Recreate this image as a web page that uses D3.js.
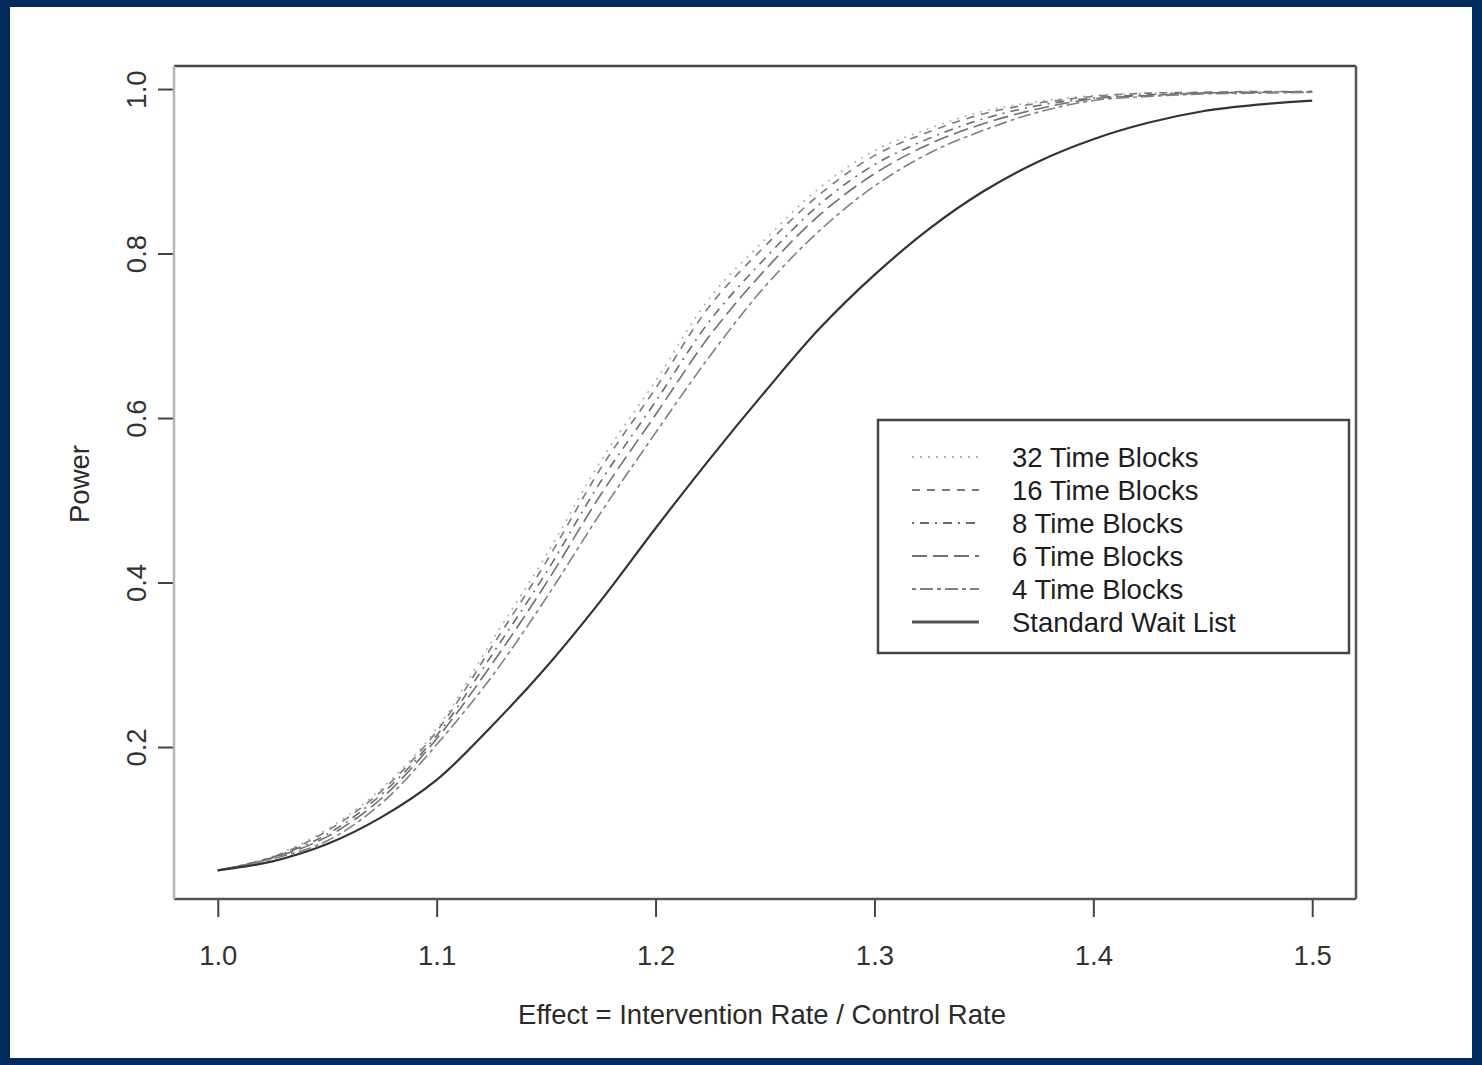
<!DOCTYPE html>
<html>
<head>
<meta charset="utf-8">
<script src="https://cdn.jsdelivr.net/npm/d3@7"></script>
<style>
  body { margin: 0; background: #002b5c; }
  svg { display: block; }
  text { font-family: "Liberation Sans", Arial, sans-serif; fill: #2a2a2a; }
</style>
</head>
<body>
<div id="my_dataviz"></div>
<script>
// effect values on the x axis
var effect = [1.000, 1.025, 1.050, 1.075, 1.100, 1.125, 1.150, 1.175, 1.200, 1.225, 1.250,
              1.275, 1.300, 1.325, 1.350, 1.375, 1.400, 1.425, 1.450, 1.475, 1.500];

// power curves
var blocks32 = [0.050, 0.067, 0.100, 0.150, 0.222, 0.328, 0.433, 0.548, 0.645, 0.747, 0.817,
                0.880, 0.925, 0.952, 0.973, 0.985, 0.992, 0.995, 0.996, 0.997, 0.997];
var blocks16 = [0.050, 0.066, 0.098, 0.147, 0.219, 0.321, 0.425, 0.539, 0.636, 0.737, 0.809,
                0.872, 0.919, 0.948, 0.970, 0.983, 0.991, 0.995, 0.996, 0.997, 0.997];
var blocks8  = [0.050, 0.066, 0.094, 0.143, 0.214, 0.311, 0.412, 0.523, 0.620, 0.719, 0.794,
                0.860, 0.908, 0.940, 0.964, 0.980, 0.989, 0.993, 0.995, 0.996, 0.997];
var blocks6  = [0.050, 0.065, 0.091, 0.138, 0.210, 0.300, 0.399, 0.507, 0.604, 0.701, 0.780,
                0.847, 0.897, 0.933, 0.958, 0.976, 0.988, 0.992, 0.995, 0.996, 0.996];
var blocks4  = [0.050, 0.064, 0.086, 0.132, 0.203, 0.285, 0.381, 0.485, 0.582, 0.676, 0.760,
                0.828, 0.882, 0.922, 0.950, 0.972, 0.986, 0.991, 0.994, 0.995, 0.996];
var waitList = [0.050, 0.061, 0.082, 0.115, 0.160, 0.225, 0.297, 0.378, 0.466, 0.551, 0.632,
                0.709, 0.774, 0.830, 0.876, 0.912, 0.939, 0.959, 0.973, 0.981, 0.986];

var seriesNames = ["32 Time Blocks", "16 Time Blocks", "8 Time Blocks", "6 Time Blocks",
                   "4 Time Blocks", "Standard Wait List"];
var seriesValues = [blocks32, blocks16, blocks8, blocks6, blocks4, waitList];

var xTicks = [1.0, 1.1, 1.2, 1.3, 1.4, 1.5];
var yTicks = [0.2, 0.4, 0.6, 0.8, 1.0];

// line styles (R lty: dotted, dashed, dotdash, longdash, twodash, solid)
var dashes  = ["2,6", "8,7", "2,6,9,6", "15,6", "4,4,13,4", null];
var strokes = ["#b0b0b0", "#7a7a7a", "#6a6a6a", "#707070", "#808080", "#333"];
var widths  = [1.6, 1.6, 1.6, 1.6, 1.6, 2.2];

// set the dimensions and margins of the graph
var margin = {top: 66, right: 126, bottom: 166, left: 174},
    width = 1482 - margin.left - margin.right,
    height = 1065 - margin.top - margin.bottom;

var fontSize = "27.5px";

var root = d3.select("#my_dataviz")
  .append("svg")
    .attr("width", 1482)
    .attr("height", 1065);

// white page inside the navy frame
root.append("rect")
  .attr("x", 10).attr("y", 7)
  .attr("width", 1462).attr("height", 1051)
  .style("fill", "#fff");

var svg = root.append("g")
  .attr("transform", "translate(" + margin.left + "," + margin.top + ")");

// scales (R style 4% padding)
var x = d3.scaleLinear()
  .domain([0.98, 1.52])
  .range([0, width]);

var y = d3.scaleLinear()
  .domain([0.0152, 1.028])
  .range([height, 0]);

// X axis
var xAxis = svg.append("g")
  .attr("transform", "translate(0," + height + ")")
  .call(d3.axisBottom(x).tickValues(xTicks).tickFormat(d3.format(".1f"))
        .tickSize(18).tickPadding(28).tickSizeOuter(0));
xAxis.select(".domain").remove();
xAxis.selectAll("line").style("stroke", "#444").style("stroke-width", 2);
xAxis.selectAll("text")
  .style("font-size", fontSize)
  .style("font-family", "Liberation Sans, Arial, sans-serif")
  .style("fill", "#333");

// Y axis, labels turned like R does
var yAxis = svg.append("g")
  .call(d3.axisLeft(y).tickValues(yTicks).tickFormat(d3.format(".1f"))
        .tickSize(16).tickSizeOuter(0));
yAxis.select(".domain").remove();
yAxis.selectAll("line").style("stroke", "#444").style("stroke-width", 2);
yAxis.selectAll("text")
  .attr("x", null).attr("dy", null)
  .attr("text-anchor", "middle")
  .attr("transform", "translate(-28,0) rotate(-90)")
  .style("font-size", fontSize)
  .style("font-family", "Liberation Sans, Arial, sans-serif")
  .style("fill", "#333");

// plot box
svg.append("line").attr("x1", 0).attr("y1", 0).attr("x2", width).attr("y2", 0)
  .style("stroke", "#444").style("stroke-width", 2.5);
svg.append("line").attr("x1", width).attr("y1", 0).attr("x2", width).attr("y2", height)
  .style("stroke", "#555").style("stroke-width", 2.5);
svg.append("line").attr("x1", 0).attr("y1", height).attr("x2", width).attr("y2", height)
  .style("stroke", "#555").style("stroke-width", 2.5);
svg.append("line").attr("x1", 0).attr("y1", 0).attr("x2", 0).attr("y2", height)
  .style("stroke", "#b5b5b5").style("stroke-width", 2.5);

// curves
var line = d3.line()
  .x(function(d, i) { return x(effect[i]); })
  .y(function(d) { return y(d); })
  .curve(d3.curveCatmullRom.alpha(0.5));

svg.append("g")
  .selectAll("path")
  .data(seriesValues)
  .enter()
  .append("path")
    .attr("d", line)
    .style("fill", "none")
    .style("stroke", function(d, i) { return strokes[i]; })
    .style("stroke-width", function(d, i) { return widths[i]; })
    .style("stroke-dasharray", function(d, i) { return dashes[i]; });

// legend
var legend = root.append("g").attr("transform", "translate(878,420)");
legend.append("rect")
  .attr("width", 471).attr("height", 233)
  .style("fill", "#fff")
  .style("stroke", "#444")
  .style("stroke-width", 2.5);

var item = legend.selectAll(".item")
  .data(seriesNames)
  .enter()
  .append("g")
    .attr("class", "item")
    .attr("transform", function(d, i) { return "translate(0," + (37 + i * 33) + ")"; });

item.append("line")
  .attr("x1", 34).attr("x2", 101)
  .style("stroke", function(d, i) { return i == 5 ? "#555" : strokes[i]; })
  .style("stroke-width", function(d, i) { return i == 5 ? 3 : 2; })
  .style("stroke-dasharray", function(d, i) { return dashes[i]; });

item.append("text")
  .attr("x", 134)
  .attr("dy", "0.36em")
  .style("font-size", fontSize)
  .style("fill", "#1e1e1e")
  .text(function(d) { return d; });

// x label
root.append("text")
  .attr("text-anchor", "middle")
  .attr("x", 762)
  .attr("y", 1024)
  .style("font-size", fontSize)
  .text("Effect = Intervention Rate / Control Rate");

// y label
root.append("text")
  .attr("text-anchor", "middle")
  .attr("transform", "translate(89,484) rotate(-90)")
  .style("font-size", fontSize)
  .text("Power");
</script>
</body>
</html>
